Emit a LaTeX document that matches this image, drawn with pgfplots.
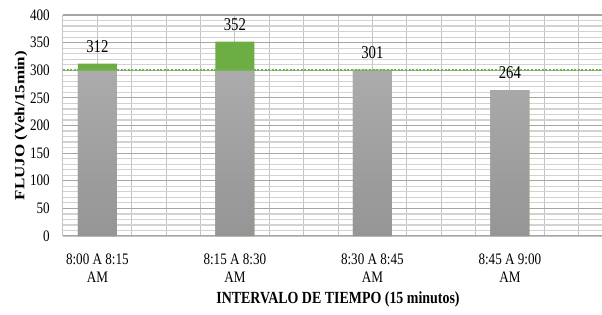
\documentclass[border=0pt]{standalone}
\usepackage{fontspec}
\setmainfont{Liberation Serif}[FakeStretch=0.82]
\newfontfamily\ylabfont{Liberation Serif}
\usepackage{graphicx}
\usepackage{pgfplots}
\pgfplotsset{compat=1.18}
\definecolor{barG}{HTML}{ABABAB}
\definecolor{barGd}{HTML}{959595}
\definecolor{bargreen}{HTML}{6CAD44}
\definecolor{lim}{HTML}{70B443}
\definecolor{majg}{HTML}{A6A6A6}
\definecolor{ming}{HTML}{D2D2D2}
\definecolor{vg}{HTML}{C4C4C4}
\begin{document}
\begin{tikzpicture}
\useasboundingbox (-63pt,-78pt) rectangle (539pt,236pt);
\begin{axis}[
  at={(0,0)}, anchor=south west,
  scale only axis, width=550pt, height=221pt,
  xmin=-0.25, xmax=3.75, ymin=0, ymax=400,
  /pgf/number format/assume math mode=true,
  xtick={0,1,2,3},
  xticklabels={{8:00 A 8:15\\AM},{8:15 A 8:30\\AM},{8:30 A 8:45\\AM},{8:45 A 9:00\\AM}},
  minor xtick={-0.25,0.25,0.5,0.75,1.25,1.5,1.75,2.25,2.5,2.75,3.25,3.5,3.75},
  ytick={0,50,...,400},
  minor ytick={0,10,...,400},
  grid=both,
  major x grid style={vg, line width=1pt},
  minor x grid style={vg, line width=1pt},
  major y grid style={majg, line width=1.2pt},
  minor y grid style={ming, line width=1.2pt},
  major tick length=0pt, minor tick length=0pt,
  axis x line*=bottom, axis y line*=left,
  axis line style={vg, line width=1pt},
  yticklabel style={font=\fontsize{16}{18}\selectfont, anchor=east, inner sep=0pt, xshift=-13pt},
  xticklabel style={font=\fontsize{16}{18}\selectfont, align=center, anchor=north, inner sep=0pt, yshift=-18pt},
  xlabel={INTERVALO DE TIEMPO (15 minutos)},
  xlabel style={font=\bfseries\fontsize{17}{19}\selectfont, at={(axis description cs:0.5,-0.249)}, anchor=north, inner sep=0pt},
  ylabel={\scalebox{1}[0.82]{\ylabfont\bfseries FLUJO (Veh/15min)}},
  ylabel style={font=\fontsize{17}{19}\selectfont, at={(axis description cs:-0.0764,0.5)}, anchor=center, inner sep=0pt},
]
\addplot[ybar, bar width=39pt, bar shift=0pt, draw=none, fill=bargreen,
  nodes near coords,
  every node near coord/.append style={font=\fontsize{18}{20}\selectfont, anchor=base, yshift=11.5pt, inner sep=0pt, text=black}]
  coordinates {(0,312) (1,352) (2,301) (3,264)};
\addplot[ybar, bar width=39pt, bar shift=0pt, draw=none, top color=barG, bottom color=barGd]
  coordinates {(0,300) (1,300) (2,300) (3,264)};
\addplot[lim, line width=2.4pt, dash pattern=on 2pt off 1.6pt]
  coordinates {(-0.25,300) (3.75,300)};
\end{axis}
\end{tikzpicture}
\end{document}
